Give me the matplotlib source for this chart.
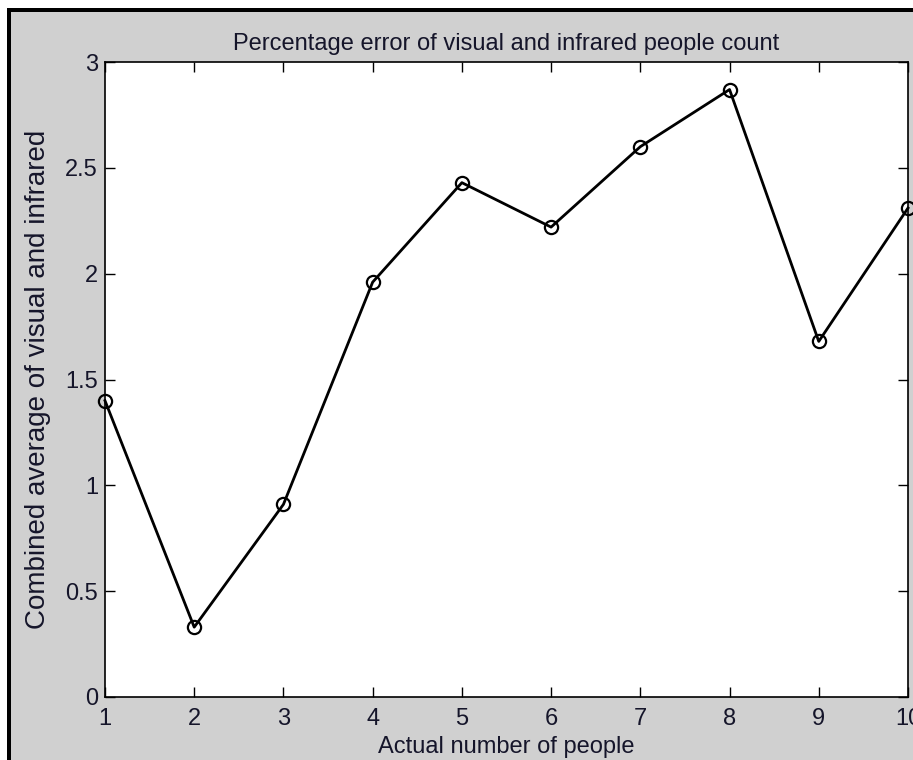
import matplotlib.pyplot as plt
from matplotlib.patches import Rectangle

# actual number of people vs combined average error
people = [1, 2, 3, 4, 5, 6, 7, 8, 9, 10]
avg_error = [1.40, 0.33, 0.91, 1.96, 2.43, 2.22, 2.60, 2.87, 1.68, 2.31]
y_ticks = [0, 0.5, 1, 1.5, 2, 2.5, 3]
y_labels = ['0', '0.5', '1', '1.5', '2', '2.5', '3']

plt.rcParams['font.family'] = ['Liberation Sans', 'DejaVu Sans']

fig = plt.figure(figsize=(9.13, 7.6), dpi=100)
fig.patch.set_facecolor('white')

# gray matlab-like figure window with black frame on left/top
fig.patches.append(Rectangle((0.0077, 0), 1, 0.9895, transform=fig.transFigure,
                             facecolor='#d0d0d0', edgecolor='none', zorder=-3))
fig.patches.append(Rectangle((0.0077, 0), 0.0044, 0.9895, transform=fig.transFigure,
                             facecolor='black', edgecolor='none', zorder=-2))
fig.patches.append(Rectangle((0.0077, 0.984), 1, 0.0055, transform=fig.transFigure,
                             facecolor='black', edgecolor='none', zorder=-2))

ax = fig.add_axes([0.115, 0.0829, 0.8795, 0.8355])
ax.set_facecolor('white')

ax.plot(people, avg_error, color='black', linewidth=2,
        marker='o', markersize=9.5, markerfacecolor='none',
        markeredgecolor='black', markeredgewidth=1.6, clip_on=False)

ax.set_xlim(1, 10)
ax.set_ylim(0, 3)
ax.set_xticks(people)
ax.set_yticks(y_ticks)
ax.set_yticklabels(y_labels)
ax.tick_params(direction='in', length=7, width=1, top=True, right=True,
               labelsize=17, labelcolor='#15152a', pad=5)
ax.tick_params(axis='x', pad=8)
for s in ax.spines.values():
    s.set_linewidth(1.2)

ax.set_title('Percentage error of visual and infrared people count',
             fontsize=17, pad=9, color='#15152a')
ax.set_xlabel('Actual number of people', fontsize=17, labelpad=4, color='#15152a')
ax.set_ylabel('Combined average of visual and infrared', fontsize=20,
              labelpad=10, color='#15152a')

plt.savefig('out.png', dpi=100, facecolor=fig.get_facecolor())
